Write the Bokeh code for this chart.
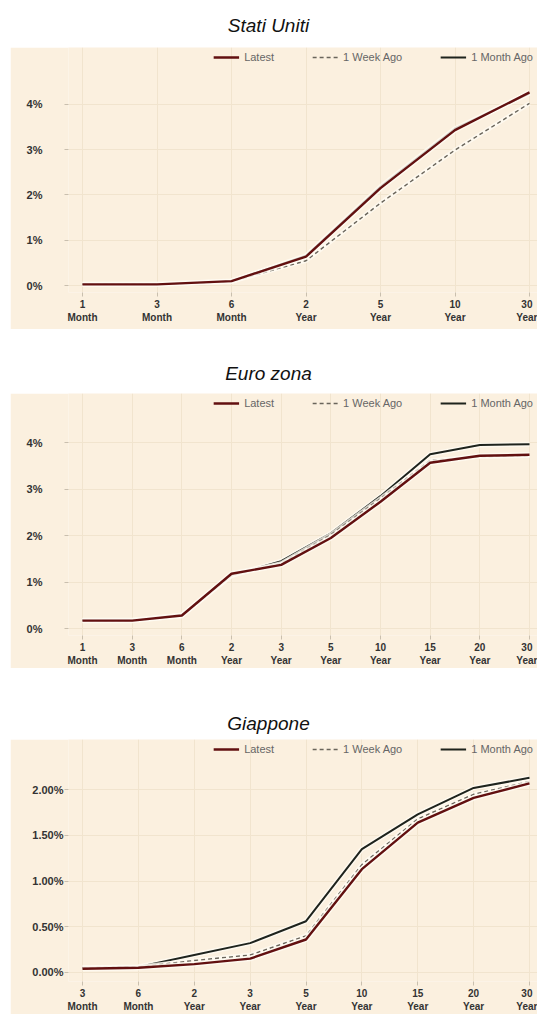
from bokeh.plotting import figure
from bokeh.models import Range1d, FixedTicker, Div, Legend, LegendItem
from bokeh.layouts import column
from bokeh.embed import file_html
from bokeh.resources import INLINE

# ---- data: yields in percent by tenor ----
us_tenors = ["1\nMonth", "3\nMonth", "6\nMonth", "2\nYear", "5\nYear", "10\nYear", "30\nYear"]
us_latest = [0.03, 0.03, 0.10, 0.64, 2.15, 3.43, 4.26]
us_week = [0.03, 0.03, 0.09, 0.55, 1.82, 2.99, 4.02]
us_month = [0.03, 0.03, 0.10, 0.66, 2.18, 3.46, 4.24]
us_yticks = [0, 1, 2, 3, 4]
us_ylabels = ["0%", "1%", "2%", "3%", "4%"]

eu_tenors = ["1\nMonth", "3\nMonth", "6\nMonth", "2\nYear", "3\nYear", "5\nYear",
             "10\nYear", "15\nYear", "20\nYear", "30\nYear"]
eu_latest = [0.17, 0.17, 0.28, 1.18, 1.37, 1.95, 2.73, 3.57, 3.72, 3.74]
eu_week = [0.17, 0.17, 0.27, 1.15, 1.40, 2.02, 2.80, 3.62, 3.70, 3.72]
eu_month = [0.18, 0.18, 0.29, 1.14, 1.45, 2.05, 2.85, 3.75, 3.95, 3.97]
eu_yticks = [0, 1, 2, 3, 4]
eu_ylabels = ["0%", "1%", "2%", "3%", "4%"]

jp_tenors = ["3\nMonth", "6\nMonth", "2\nYear", "3\nYear", "5\nYear",
             "10\nYear", "15\nYear", "20\nYear", "30\nYear"]
jp_latest = [0.04, 0.05, 0.09, 0.15, 0.36, 1.13, 1.64, 1.91, 2.07]
jp_week = [0.05, 0.06, 0.13, 0.19, 0.40, 1.18, 1.68, 1.95, 2.09]
jp_month = [0.05, 0.06, 0.19, 0.32, 0.56, 1.35, 1.73, 2.02, 2.13]
jp_yticks = [0, 0.5, 1, 1.5, 2]
jp_ylabels = ["0.00%", "0.50%", "1.00%", "1.50%", "2.00%"]

series_names = ["Latest", "1 Week Ago", "1 Month Ago"]

# ---- styling ----
BG = "#FBF0DF"
GRID = "#F1E4CE"
FONT = "Liberation Sans"
PAGE_W = 537
FIG_LEFT = 10
FIG_W = PAGE_W - FIG_LEFT
BORDER_LEFT = 58          # shared left border so all frames line up

STYLE = {
    "Latest": dict(color="#621010", width=2.4, dash="solid"),
    "1 Week Ago": dict(color="#6a655b", width=1.4, dash="4 3"),
    "1 Month Ago": dict(color="#1e231d", width=2.0, dash="solid"),
}


def title_div(text, height, pad_top):
    html = (f'<div style="width:{PAGE_W}px;text-align:center;font-family:\'{FONT}\',Arial,sans-serif;'
            f'font-style:italic;font-size:19px;color:#111;padding-top:{pad_top}px;">{text}</div>')
    return Div(text=html, width=PAGE_W, height=height, margin=(0, 0, 0, 0))


def panel(tenors, latest, week, month, yticks, ylabels, height, label_right_px,
          border_bottom, y_start, y_end, first_px=82, last_px=529):
    n = len(tenors)
    frame_left_px = FIG_LEFT + BORDER_LEFT
    step = (last_px - first_px) / (n - 1)
    x0 = -(first_px - frame_left_px) / step
    x1 = (n - 1) + (PAGE_W - last_px) / step

    p = figure(width=FIG_W, height=height, x_range=Range1d(x0, x1),
               y_range=Range1d(y_start, y_end), output_backend="svg",
               toolbar_location=None, background_fill_color=BG,
               border_fill_color=BG, outline_line_color=None,
               min_border_left=BORDER_LEFT, min_border_right=0,
               min_border_top=0, min_border_bottom=border_bottom,
               margin=(0, 0, 0, FIG_LEFT))

    xs = list(range(n))
    data = {"Latest": latest, "1 Week Ago": week, "1 Month Ago": month}
    renderers = {}
    for name in ["1 Month Ago", "1 Week Ago", "Latest"]:
        st = STYLE[name]
        # soft light halo under each curve
        p.line(xs, data[name], line_color="#FFFBF3", line_width=st["width"] + 3,
               line_alpha=0.8)
        renderers[name] = p.line(xs, data[name], line_color=st["color"],
                                 line_width=st["width"], line_dash=st["dash"])

    legend = Legend(items=[LegendItem(label=nm, renderers=[renderers[nm]]) for nm in series_names],
                    orientation="horizontal", location="top_right",
                    background_fill_alpha=0, border_line_alpha=0,
                    label_text_font=FONT, label_text_font_size="11px",
                    label_text_color="#666", glyph_width=26, glyph_height=10,
                    label_standoff=5, spacing=38, padding=2, margin=2)
    p.add_layout(legend)

    p.xaxis.ticker = FixedTicker(ticks=xs)
    p.xaxis.major_label_overrides = {i: t for i, t in enumerate(tenors)}
    p.yaxis.ticker = FixedTicker(ticks=yticks)
    p.yaxis.major_label_overrides = {v: s for v, s in zip(yticks, ylabels)}

    for ax in (p.xaxis[0], p.yaxis[0]):
        ax.axis_line_color = None
        ax.minor_tick_line_color = None
        ax.major_tick_line_color = "#c9bfae"
        ax.major_tick_in = 0
        ax.major_tick_out = 4
        ax.major_label_text_font = FONT
        ax.major_label_text_color = "#333"
        ax.major_label_standoff = 2
    # push the y labels out so their right edge sits where wanted
    p.yaxis.major_label_standoff = frame_left_px - 4 - label_right_px
    p.xaxis.major_label_text_font_size = "10px"
    p.yaxis.major_label_text_font_size = "11px"
    p.yaxis.major_label_text_font_style = "bold"
    p.xaxis.major_label_text_font_style = "bold"

    p.xgrid.grid_line_color = GRID
    p.ygrid.grid_line_color = GRID
    p.xgrid.ticker = FixedTicker(ticks=xs)
    p.ygrid.ticker = FixedTicker(ticks=yticks)
    return p


p_us = panel(us_tenors, us_latest, us_week, us_month, us_yticks, us_ylabels,
             height=282, label_right_px=42, border_bottom=37, y_start=-0.15, y_end=5.25)
p_eu = panel(eu_tenors, eu_latest, eu_week, eu_month, eu_yticks, eu_ylabels,
             height=275, label_right_px=42, border_bottom=31, y_start=-0.15, y_end=5.06)
p_jp = panel(jp_tenors, jp_latest, jp_week, jp_month, jp_yticks, jp_ylabels,
             height=275, label_right_px=63, border_bottom=30, y_start=-0.10, y_end=2.55)

layout = column(
    title_div("Stati Uniti", 47, 12), p_us,
    title_div("Euro zona", 64, 31), p_eu,
    title_div("Giappone", 71, 42), p_jp,
    spacing=0,
)

open("out.html", "w").write(file_html(layout, INLINE))
